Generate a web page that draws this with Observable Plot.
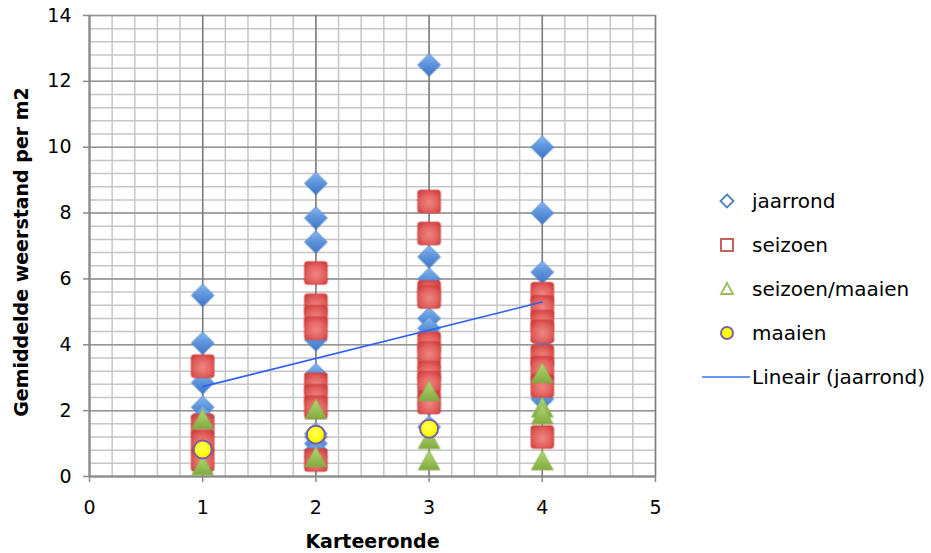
<!DOCTYPE html>
<html>
<head>
<meta charset="utf-8">
<script src="https://cdn.jsdelivr.net/npm/d3@7"></script>
<script src="https://cdn.jsdelivr.net/npm/@observablehq/plot@0.6"></script>
<style>
  body { margin: 0; background: #fff; }
  #chart { position: relative; width: 931px; height: 553px; font-family: "DejaVu Sans", "Liberation Sans", Arial, sans-serif; color: #000; }
  #legend { position: absolute; left: 700px; top: 0; width: 231px; height: 553px; }
  #legend .row { position: absolute; left: 0; height: 24px; display: flex; align-items: center; font-size: 20px; white-space: nowrap; }
  #legend .row svg { width: 50px; height: 24px; flex: none; }
  #legend .row span { margin-left: 2px; }
</style>
</head>
<body>
<svg width="0" height="0" style="position:absolute">
  <defs>
    <linearGradient id="gBlue" x1="0" y1="0" x2="0" y2="1">
      <stop offset="0" stop-color="#86b6f0"/>
      <stop offset="0.45" stop-color="#5f96dc"/>
      <stop offset="1" stop-color="#3f74c4"/>
    </linearGradient>
    <radialGradient id="gRed" cx="0.5" cy="0.55" r="0.65">
      <stop offset="0" stop-color="#ee8784"/>
      <stop offset="0.6" stop-color="#e2605d"/>
      <stop offset="1" stop-color="#cf3c3a"/>
    </radialGradient>
    <linearGradient id="gGreen" x1="0" y1="0" x2="0" y2="1">
      <stop offset="0" stop-color="#b4d67a"/>
      <stop offset="0.5" stop-color="#9cc35a"/>
      <stop offset="1" stop-color="#82aa42"/>
    </linearGradient>
    <radialGradient id="gYellow" cx="0.45" cy="0.4" r="0.6">
      <stop offset="0" stop-color="#ffff66"/>
      <stop offset="0.7" stop-color="#ffff00"/>
      <stop offset="1" stop-color="#ecec00"/>
    </radialGradient>
    <filter id="soft" x="-20%" y="-20%" width="140%" height="140%">
      <feGaussianBlur stdDeviation="0.5"/>
    </filter>
  </defs>
</svg>
<div id="chart">
  <div id="legend"></div>
</div>
<script>
// Karteerronde (x) and the measured values per ronde, one list per series
const ronden = [1, 2, 3, 4];

const jaarrond = [
  [5.5, 4.05, 2.85, 2.1, 1.8, 1.55, 1.2],
  [8.9, 7.85, 7.12, 4.15, 3.1, 1.3, 1.2, 1.0, 0.8, 0.6],
  [12.5, 6.67, 6.0, 4.8, 4.5, 3.6, 3.3, 3.0, 2.75, 2.4, 2.2, 1.5],
  [10.0, 8.0, 6.2, 4.15, 3.4, 3.0, 2.35]
];
const seizoen = [
  [3.35, 1.55, 1.05, 0.5],
  [6.18, 5.2, 4.85, 4.5, 2.8, 2.45, 2.1, 0.5],
  [8.35, 7.38, 5.6, 5.45, 4.05, 3.75, 3.15, 2.85, 2.25],
  [5.55, 5.15, 4.7, 4.4, 3.65, 3.3, 2.75, 1.2]
];
const seizoenMaaien = [
  [1.75, 0.35],
  [2.05, 0.6],
  [2.6, 1.15, 0.5],
  [3.15, 2.1, 1.9, 0.5]
];
const maaien = [
  [0.82],
  [1.27],
  [1.45],
  []
];

const seriesNames = ["jaarrond", "seizoen", "seizoen/maaien", "maaien"];
const trendName = "Lineair (jaarrond)";
const xTicks = [0, 1, 2, 3, 4, 5];
const yTicks = [0, 2, 4, 6, 8, 10, 12, 14];
const xTitle = "Karteeronde";
const yTitle = "Gemiddelde weerstand per m2";

// minor grid: 5 divisions per x unit, 5 per 2 y units
const xMinor = d3.range(0, 5.0001, 0.2);
const yMinor = d3.range(0, 14.0001, 0.4);

const rows = (series) => ronden.flatMap((r, i) => series[i].map((v) => ({ronde: r, waarde: v})));

// Marker shapes with fixed pixel sizes
const diamondShape = {
  draw(ctx) {
    const r = 11.5;
    ctx.moveTo(0, -r); ctx.lineTo(r, 0); ctx.lineTo(0, r); ctx.lineTo(-r, 0); ctx.closePath();
  }
};
const squareShape = {
  draw(ctx) {
    const h = 11.5, c = 3;
    ctx.moveTo(-h + c, -h);
    ctx.lineTo(h - c, -h); ctx.arcTo(h, -h, h, -h + c, c);
    ctx.lineTo(h, h - c); ctx.arcTo(h, h, h - c, h, c);
    ctx.lineTo(-h + c, h); ctx.arcTo(-h, h, -h, h - c, c);
    ctx.lineTo(-h, -h + c); ctx.arcTo(-h, -h, -h + c, -h, c);
    ctx.closePath();
  }
};
const triangleShape = {
  draw(ctx) {
    const w = 11, t = 10;
    ctx.moveTo(0, -t); ctx.lineTo(w, t); ctx.lineTo(-w, t); ctx.closePath();
  }
};

const font = "DejaVu Sans, Liberation Sans, Arial, sans-serif";

const chart = Plot.plot({
  width: 931,
  height: 553,
  marginLeft: 89,
  marginRight: 276,
  marginTop: 15,
  marginBottom: 77,
  style: {fontFamily: font, fontSize: "19px", color: "#000", background: "transparent"},
  x: {domain: [0, 5]},
  y: {domain: [0, 14]},
  marks: [
    Plot.ruleX(xMinor, {stroke: "#c6c6c6", strokeWidth: 1.5}),
    Plot.ruleY(yMinor, {stroke: "#c6c6c6", strokeWidth: 1.5}),
    Plot.ruleY(yTicks, {stroke: "#959595", strokeWidth: 1.5}),
    Plot.ruleX(xTicks, {stroke: "#7c7c7c", strokeWidth: 1.5}),
    Plot.axisY({ticks: yTicks, tickSize: 6, tickPadding: 12, tickFormat: (d) => String(d), stroke: "#8a8a8a", strokeWidth: 1.5, fill: "#000", fontSize: 19, label: null}),
    Plot.axisX({ticks: xTicks, tickSize: 6, tickPadding: 18, tickFormat: (d) => String(d), stroke: "#8a8a8a", strokeWidth: 1.5, fill: "#000", fontSize: 19, label: null}),
    Plot.ruleX([0], {stroke: "#8a8a8a", strokeWidth: 2}),
    Plot.ruleY([0], {stroke: "#8a8a8a", strokeWidth: 2}),
    Plot.dot(rows(jaarrond), {x: "ronde", y: "waarde", symbol: diamondShape, fill: "url(#gBlue)", stroke: "#4a7cc4", strokeWidth: 0.6}),
    Plot.dot(rows(seizoen), {x: "ronde", y: "waarde", symbol: squareShape, fill: "url(#gRed)", stroke: "#c94442", strokeWidth: 0.6}),
    Plot.dot(rows(seizoenMaaien), {x: "ronde", y: "waarde", symbol: triangleShape, fill: "url(#gGreen)", stroke: "#86ad46", strokeWidth: 0.6}),
    Plot.dot(rows(maaien), {x: "ronde", y: "waarde", r: 9, fill: "url(#gYellow)", stroke: "#7b5ea7", strokeWidth: 2}),
    Plot.linearRegressionY(rows(jaarrond), {x: "ronde", y: "waarde", ci: 0, stroke: "#2f62f2", strokeWidth: 1.7}),
    Plot.text([xTitle], {frameAnchor: "bottom", dy: 71, fontWeight: "bold", fontSize: 19, fill: "#000"}),
    Plot.text([yTitle], {frameAnchor: "left", textAnchor: "middle", dx: -68, dy: 6, rotate: -90, fontWeight: "bold", fontSize: 19, fill: "#000"})
  ]
});

// soften the marker edges a little
chart.querySelectorAll('g[aria-label="dot"]').forEach((g) => g.setAttribute("filter", "url(#soft)"));

const host = document.getElementById("chart");
host.insertBefore(chart, host.firstChild);
chart.style.position = "absolute";
chart.style.left = "0";
chart.style.top = "0";

// Legend: outlined markers plus the trend line sample
const legend = document.getElementById("legend");
const icons = [
  '<path d="M27,-6.5 L33.5,0 L27,6.5 L20.5,0 Z" transform="translate(0,12)" fill="none" stroke="#4f81bd" stroke-width="1.8"/>',
  '<rect x="21" y="6" width="12" height="12" fill="none" stroke="#c0504d" stroke-width="1.8"/>',
  '<path d="M27,6 L33,17 L21,17 Z" fill="none" stroke="#9bbb59" stroke-width="1.8"/>',
  '<circle cx="27" cy="12" r="6" fill="#ffff00" stroke="#8064a2" stroke-width="2"/>',
  '<line x1="2" y1="12" x2="50" y2="12" stroke="#3d70ee" stroke-width="1.6"/>'
];
[...seriesNames, trendName].forEach((name, i) => {
  const row = document.createElement("div");
  row.className = "row";
  row.style.top = (201 + 44 * i - 12) + "px";
  row.innerHTML = `<svg viewBox="0 0 50 24">${icons[i]}</svg><span>${name}</span>`;
  legend.appendChild(row);
});
</script>
</body>
</html>
